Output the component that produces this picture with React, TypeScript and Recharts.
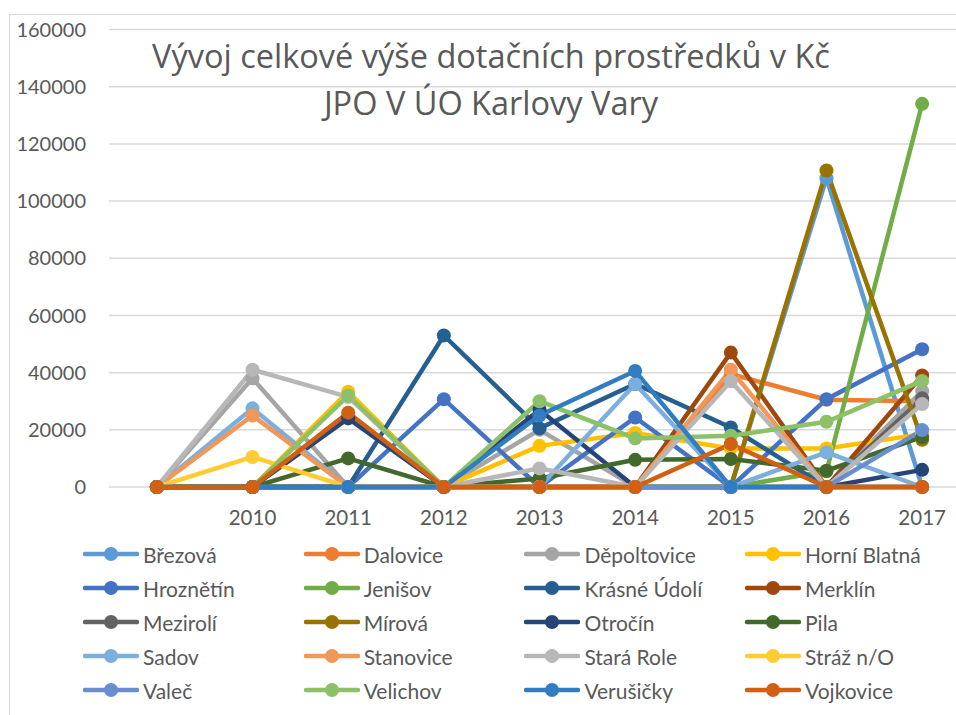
import { LineChart, Line, XAxis, YAxis, CartesianGrid, Legend } from 'recharts'

const categories = ['', '2010', '2011', '2012', '2013', '2014', '2015', '2016', '2017']
const yTicks = [0, 20000, 40000, 60000, 80000, 100000, 120000, 140000, 160000]

const brezova = [0, 0, 0, 0, 0, 0, 0, 108000, 0]
const dalovice = [0, 0, 0, 0, 0, 0, 39500, 30500, 30000]
const depoltovice = [0, 38000, 0, 0, 20000, 0, 0, 0, 33500]
const horniBlatna = [0, 0, 33300, 0, 14400, 18900, 13500, 13500, 18500]
const hroznetin = [0, 0, 0, 30700, 0, 24300, 0, 30700, 48200]
const jenisov = [0, 0, 0, 0, 0, 0, 0, 5500, 134000]
const krasneUdoli = [0, 0, 0, 53000, 20500, 36000, 20800, 0, 0]
const merklin = [0, 0, 0, 0, 0, 0, 47000, 0, 39000]
const meziroli = [0, 0, 0, 0, 0, 0, 0, 0, 31000]
const mirova = [0, 0, 0, 0, 0, 0, 0, 110700, 16500]
const otrocin = [0, 0, 24000, 0, 27000, 0, 0, 0, 6000]
const pila = [0, 0, 10000, 0, 3000, 9500, 9800, 5700, 17500]
const sadov = [0, 27500, 0, 0, 0, 36000, 0, 12100, 0]
const stanovice = [0, 25000, 0, 0, 0, 0, 41000, 0, 0]
const staraRole = [0, 41000, 31500, 0, 6500, 0, 37000, 0, 29000]
const strazNO = [0, 10500, 0, 0, 0, 0, 0, 0, 0]
const valec = [0, 0, 0, 0, 0, 0, 0, 0, 19900]
const velichov = [0, 0, 32000, 0, 30000, 17000, 17900, 22800, 37100]
const verusicky = [0, 0, 0, 0, 25000, 40600, 0, 0, 0]
const vojkovice = [0, 0, 26000, 0, 0, 0, 15000, 0, 0]

const seriesNames = [
  'Březová', 'Dalovice', 'Děpoltovice', 'Horní Blatná',
  'Hroznětín', 'Jenišov', 'Krásné Údolí', 'Merklín',
  'Mezirolí', 'Mírová', 'Otročín', 'Pila',
  'Sadov', 'Stanovice', 'Stará Role', 'Stráž n/O',
  'Valeč', 'Velichov', 'Verušičky', 'Vojkovice',
]

const seriesValues = [
  brezova, dalovice, depoltovice, horniBlatna,
  hroznetin, jenisov, krasneUdoli, merklin,
  meziroli, mirova, otrocin, pila,
  sadov, stanovice, staraRole, strazNO,
  valec, velichov, verusicky, vojkovice,
]

const colors = [
  '#5B9BD5', '#ED7D31', '#A5A5A5', '#FFC000',
  '#4472C4', '#70AD47', '#255E91', '#9E480E',
  '#636363', '#997300', '#264478', '#43682B',
  '#7CAFDD', '#F1975A', '#B7B7B7', '#FFCD33',
  '#698ED0', '#8CC168', '#327DC2', '#D26012',
]

const FONT = 'Lato, "Open Sans", sans-serif'
const TITLE_FONT = '"Open Sans", Lato, sans-serif'
const TEXT = '#595959'

const chartData = categories.map((year, i) => {
  const row: Record<string, string | number> = { year }
  seriesNames.forEach((name, s) => {
    row[name] = seriesValues[s][i]
  })
  return row
})

function LegendGrid() {
  return (
    <div
      style={{
        height: 171,
        paddingLeft: 83,
        display: 'grid',
        gridTemplateColumns: 'repeat(4, 220.7px)',
        gridAutoRows: '34.1px',
        fontFamily: FONT,
        fontSize: 21,
        color: TEXT,
      }}
    >
      {seriesNames.map((name, i) => (
        <div key={name} style={{ display: 'flex', alignItems: 'center' }}>
          <svg width={56} height={16}>
            <line x1={2} y1={8} x2={54} y2={8} stroke={colors[i]} strokeWidth={4.5} strokeLinecap="round" />
            <circle cx={28} cy={8} r={7} fill={colors[i]} />
          </svg>
          <span style={{ marginLeft: 4, whiteSpace: 'nowrap' }}>{name}</span>
        </div>
      ))}
    </div>
  )
}

export default function App() {
  return (
    <div
      style={{
        position: 'absolute',
        left: 0,
        top: 0,
        width: 956,
        height: 715,
        overflow: 'hidden',
        background: '#fff',
      }}
    >
      <div
        style={{
          position: 'absolute',
          left: 9,
          top: 14,
          width: 1100,
          height: 900,
          border: '1px solid #D9D9D9',
        }}
      />
      <div style={{ position: 'absolute', left: 0, top: 0 }}>
        <LineChart
          width={980}
          height={715}
          data={chartData}
          margin={{ top: 29.5, right: 10, bottom: 7, left: 0 }}
        >
          <CartesianGrid vertical={false} stroke="#D9D9D9" strokeWidth={1.5} />
          <XAxis
            dataKey="year"
            interval={0}
            axisLine={false}
            tickLine={false}
            height={50}
            tickMargin={17}
            padding={{ left: 47.85, right: 47.85 }}
            tick={{ fill: TEXT, fontSize: 20.5, fontFamily: FONT }}
          />
          <YAxis
            domain={[0, 160000]}
            ticks={yTicks}
            interval={0}
            width={109}
            axisLine={false}
            tickLine={false}
            tickMargin={17}
            tick={{ fill: TEXT, fontSize: 20, fontFamily: FONT }}
          />
          <Legend
            verticalAlign="bottom"
            wrapperStyle={{ left: 0, width: 956, bottom: 7 }}
            content={() => <LegendGrid />}
          />
          {seriesNames.map((name, i) => (
            <Line
              key={name}
              type="linear"
              dataKey={name}
              stroke={colors[i]}
              strokeWidth={4.5}
              dot={{ r: 7, fill: colors[i], stroke: colors[i], strokeWidth: 0 }}
              activeDot={false}
              isAnimationActive={false}
            />
          ))}
        </LineChart>
      </div>
      <div
        style={{
          position: 'absolute',
          left: 0,
          top: 32,
          width: 982,
          textAlign: 'center',
          fontFamily: TITLE_FONT,
          fontWeight: 400,
          fontSize: 32.5,
          lineHeight: '47px',
          color: TEXT,
          pointerEvents: 'none',
        }}
      >
        <div>Vývoj celkové výše dotačních prostředků v Kč</div>
        <div>JPO V ÚO Karlovy Vary</div>
      </div>
    </div>
  )
}
